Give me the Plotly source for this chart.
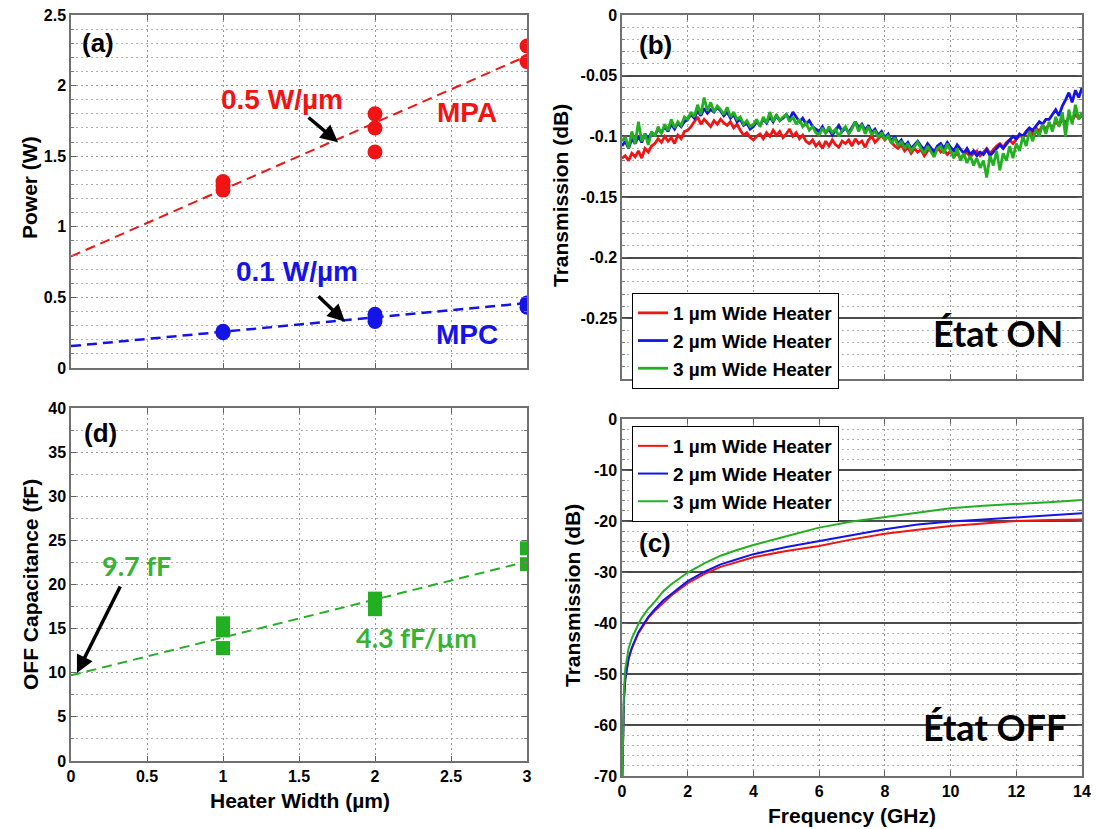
import numpy as np
import plotly.graph_objects as go

# ---------------- data ----------------
# (a) maximum power vs heater width
mpa_width = [1, 1, 1, 2, 2, 2, 3, 3]
mpa_power = [1.32, 1.29, 1.26, 1.80, 1.70, 1.53, 2.28, 2.17]
mpa_fit_x = [0, 3]
mpa_fit_y = [0.79, 2.21]
mpc_width = [1, 1, 2, 2, 2, 3, 3]
mpc_power = [0.26, 0.25, 0.38, 0.35, 0.33, 0.46, 0.43]
mpc_fit_x = [0, 3]
mpc_fit_y = [0.155, 0.46]

# (d) OFF capacitance vs heater width
cap_width = [1, 1, 1, 2, 2, 3, 3]
cap_ff = [15.6, 14.8, 12.8, 18.4, 17.2, 24.1, 22.3]
cap_fit_x = [0, 3]
cap_fit_y = [9.7, 22.6]

# (b) ON-state transmission (values in mdB), 0..14 GHz every 0.1 GHz
freq_on = np.round(np.arange(0, 14.05, 0.1), 1)
on_1um_mdb = [
    -118, -116, -120, -114, -117, -112, -118, -110, -113, -108,
    -106, -102, -105, -100, -104, -101, -106, -99, -102, -96,
    -95, -92, -88, -84, -90, -86, -89, -92, -87, -90,
    -86, -89, -91, -88, -93, -90, -95, -99, -97, -101,
    -103, -100, -98, -102, -97, -100, -95, -99, -96, -101,
    -98, -94, -100, -97, -102, -99, -104, -106, -103, -108,
    -105, -110, -104, -108, -103, -107, -109, -104, -106, -103,
    -108, -102, -106, -104, -109, -103, -100, -105, -102, -99,
    -103, -100, -105, -108, -110, -107, -112, -109, -114, -110,
    -113, -111, -116, -112, -110, -114, -109, -113, -111, -115,
    -112, -117, -114, -118, -115, -113, -117, -114, -112, -116,
    -113, -110, -114, -111, -108, -106, -109, -105, -103, -106,
    -102, -99, -101, -97, -95, -98, -93, -96, -91, -94,
    -90, -93, -88, -91, -86, -89, -84, -87, -82, -85,
    -83]
on_2um_mdb = [
    -108, -104, -110, -102, -106, -100, -105, -98, -102, -97,
    -99, -94, -97, -92, -96, -90, -94, -89, -92, -88,
    -86, -82, -85, -79, -83, -77, -81, -78, -80, -76,
    -79, -83, -80, -85, -82, -88, -86, -91, -89, -94,
    -92, -88, -91, -86, -89, -84, -88, -83, -87, -85,
    -82, -86, -80, -84, -88, -85, -90, -87, -92, -94,
    -96, -92, -97, -94, -99, -95, -91, -96, -93, -97,
    -92, -88, -93, -90, -95, -91, -97, -94, -99, -96,
    -101, -98, -104, -100, -106, -103, -108, -105, -110, -107,
    -104, -108, -111, -106, -110, -113, -108, -106, -110, -105,
    -109, -112, -107, -111, -114, -110, -115, -112, -116, -113,
    -115, -111, -116, -113, -110, -107, -110, -106, -103, -100,
    -102, -98, -100, -96, -93, -95, -91, -88, -90, -86,
    -86, -82, -78, -83, -75, -70, -64, -72, -62, -68,
    -60]
on_3um_mdb = [
    -104, -100, -110, -96, -106, -88, -104, -98, -107, -96,
    -100, -92, -98, -90, -95, -86, -93, -88, -91, -84,
    -86, -80, -84, -74, -82, -68, -79, -72, -80, -75,
    -78, -82, -76, -84, -80, -86, -84, -90, -87, -92,
    -90, -86, -92, -84, -89, -80, -88, -82, -87, -84,
    -82, -88, -84, -90, -86, -92, -89, -95, -92, -97,
    -99, -93, -98, -92, -97, -94, -100, -95, -92, -98,
    -94, -88, -96, -90, -98, -92, -99, -95, -101, -97,
    -103, -99, -106, -101, -108, -104, -110, -106, -112, -108,
    -105, -110, -114, -108, -112, -117, -110, -108, -114, -106,
    -112, -118, -110, -120, -114, -122, -116, -124, -118, -126,
    -120, -134, -116, -124, -112, -128, -114, -120, -108, -118,
    -106, -112, -100, -108, -96, -104, -94, -100, -90, -98,
    -88, -96, -84, -92, -80, -100, -78, -90, -74, -86,
    -80]

# (c) OFF-state transmission (dB)
freq_off = [0.01, 0.03, 0.06, 0.1, 0.15, 0.2, 0.3, 0.4, 0.5, 0.6, 0.8, 1.0,
            1.25, 1.5, 2, 2.5, 3, 3.5, 4, 5, 6, 7, 8, 9, 10, 11, 12, 13, 14]
off_1um = [-70, -60, -55, -51, -48.5, -47, -45, -43.5, -42, -41, -39, -37.6,
           -36, -34.6, -32.2, -30.4, -29, -28, -27.1, -25.9, -24.9, -23.6,
           -22.5, -21.7, -21, -20.5, -20, -19.8, -19.7]
off_2um = [-70, -60, -55, -51, -48.5, -47, -44.8, -43.2, -41.8, -40.8, -38.8,
           -37.3, -35.6, -34.3, -31.8, -30, -28.5, -27.5, -26.5, -25.1, -23.9,
           -22.7, -21.6, -20.7, -20.1, -19.7, -19.3, -18.9, -18.5]
off_3um = [-70, -58, -53, -49, -46.5, -45, -43, -41.5, -40.2, -39, -37.2,
           -35.8, -33.8, -32.4, -30.1, -28.3, -26.8, -25.7, -24.7, -23, -21.3,
           -20.1, -19.2, -18.4, -17.5, -17, -16.7, -16.3, -15.9]

legend_names = ["1 \u00b5m Wide Heater", "2 \u00b5m Wide Heater", "3 \u00b5m Wide Heater"]

RED = "#f01414"
BLUE = "#1414e6"
GREEN = "#22b022"

W, H = 1097, 829
FONT = "Liberation Sans"

def px(x):
    return x / W

def py(y):
    return 1 - y / H

fig = go.Figure()

DASH = "10px,6px"
# (a)
fig.add_trace(go.Scatter(x=mpa_fit_x, y=mpa_fit_y, mode="lines", xaxis="x", yaxis="y",
                         line=dict(color=RED, width=2, dash=DASH), showlegend=False))
fig.add_trace(go.Scatter(x=mpc_fit_x, y=mpc_fit_y, mode="lines", xaxis="x", yaxis="y",
                         line=dict(color=BLUE, width=2.5, dash=DASH), showlegend=False))
fig.add_trace(go.Scatter(x=mpa_width, y=mpa_power, mode="markers", xaxis="x", yaxis="y",
                         marker=dict(color=RED, size=15, symbol="circle"), showlegend=False))
fig.add_trace(go.Scatter(x=mpc_width, y=mpc_power, mode="markers", xaxis="x", yaxis="y",
                         marker=dict(color=BLUE, size=15, symbol="circle"), showlegend=False))

# (b)
for vals, col, name in zip([on_1um_mdb, on_2um_mdb, on_3um_mdb], [RED, BLUE, GREEN], legend_names):
    fig.add_trace(go.Scatter(x=freq_on, y=np.array(vals) / 1000.0, mode="lines",
                             xaxis="x2", yaxis="y2", name=name, legend="legend",
                             line=dict(color=col, width=2.8)))

# (d)
fig.add_trace(go.Scatter(x=cap_fit_x, y=cap_fit_y, mode="lines", xaxis="x3", yaxis="y3",
                         line=dict(color=GREEN, width=2, dash=DASH), showlegend=False))
fig.add_trace(go.Scatter(x=cap_width, y=cap_ff, mode="markers", xaxis="x3", yaxis="y3",
                         marker=dict(color=GREEN, size=14, symbol="square"), showlegend=False))

# (c)
for vals, col, name in zip([off_1um, off_2um, off_3um], [RED, BLUE, GREEN], legend_names):
    fig.add_trace(go.Scatter(x=freq_off, y=vals, mode="lines",
                             xaxis="x4", yaxis="y4", name=name, legend="legend2",
                             line=dict(color=col, width=2)))

tickfont = dict(family=FONT, size=16, color="black", weight="bold")
DOT = "2px,3px"

def axis(**kw):
    d = dict(showline=True, linecolor="#707070", linewidth=1.5, mirror="allticks",
             ticks="inside", ticklen=5, tickcolor="#606060", tickwidth=1,
             showgrid=True, gridcolor="#9a9a9a", griddash=DOT, gridwidth=1,
             zeroline=False, tickfont=tickfont, fixedrange=True, automargin=False)
    d.update(kw)
    return d

def minor(dt):
    return dict(tickmode="linear", tick0=0, dtick=dt, ticks="inside", ticklen=3,
                tickcolor="#808080", showgrid=True, gridcolor="#b0b0b0",
                griddash=DOT, gridwidth=1)

LX = [px(71), px(527)]
RX = [px(622), px(1082)]

def fmt(v):
    return "%g" % v

a_y = [0, 0.5, 1, 1.5, 2, 2.5]
b_y = [0, -0.05, -0.1, -0.15, -0.2, -0.25, -0.3]
c_y = [0, -10, -20, -30, -40, -50, -60, -70]
d_y = [0, 5, 10, 15, 20, 25, 30, 35, 40]
d_x = [0, 0.5, 1, 1.5, 2, 2.5, 3]
c_x = [0, 2, 4, 6, 8, 10, 12, 14]

fig.update_layout(
    width=W, height=H, autosize=False,
    margin=dict(l=0, r=0, t=0, b=0, autoexpand=False),
    paper_bgcolor="white", plot_bgcolor="white",
    xaxis=axis(domain=LX, range=[0, 3], anchor="y", tickmode="linear", tick0=0, dtick=0.5,
               showticklabels=False),
    yaxis=axis(domain=[py(368), py(15)], range=[0, 2.5], anchor="x",
               tickmode="array", tickvals=a_y, ticktext=[fmt(v) for v in a_y], minor=minor(0.1)),
    xaxis2=axis(domain=RX, range=[0, 14], anchor="y2", tickmode="linear", tick0=0, dtick=2,
                showticklabels=False),
    yaxis2=axis(domain=[py(379), py(15)], range=[-0.3, 0], anchor="x2",
                tickmode="array", tickvals=b_y,
                ticktext=["0", "-0.05", "-0.1", "-0.15", "-0.2", "-0.25", ""],
                griddash="solid", gridcolor="#4a4a4a", gridwidth=1.5, minor=minor(0.01)),
    xaxis3=axis(domain=LX, range=[0, 3], anchor="y3", tickmode="array", tickvals=d_x,
                ticktext=[fmt(v) for v in d_x]),
    yaxis3=axis(domain=[py(761), py(408)], range=[0, 40], anchor="x3",
                tickmode="array", tickvals=d_y, ticktext=[fmt(v) for v in d_y], minor=minor(2.5)),
    xaxis4=axis(domain=RX, range=[0, 14], anchor="y4", tickmode="array", tickvals=c_x,
                ticktext=[fmt(v) for v in c_x]),
    yaxis4=axis(domain=[py(776), py(419)], range=[-70, 0], anchor="x4",
                tickmode="array", tickvals=c_y,
                ticktext=["0"] + ["-%d" % (-v) for v in c_y[1:]],
                griddash="solid", gridcolor="#4a4a4a", gridwidth=1.5, minor=minor(2)),
    legend=dict(x=px(632), y=py(293), xanchor="left", yanchor="top", bgcolor="white",
                bordercolor="black", borderwidth=1, tracegroupgap=0,
                font=dict(family=FONT, size=19, color="black", weight="bold")),
    legend2=dict(x=px(632), y=py(426), xanchor="left", yanchor="top", bgcolor="white",
                 bordercolor="black", borderwidth=1, tracegroupgap=0,
                 font=dict(family=FONT, size=19, color="black", weight="bold")),
)

ann = []
titlefont = dict(family=FONT, size=21, color="black", weight="bold")

def ptext(x, y, text, font, angle=0):
    ann.append(dict(x=px(x), y=py(y), xref="paper", yref="paper", text=text, showarrow=False,
                    font=font, textangle=angle, xanchor="center", yanchor="middle"))

# axis titles
ptext(30, 188, "Power (W)", titlefont, -90)
ptext(561, 196, "Transmission (dB)", titlefont, -90)
ptext(572, 596, "Transmission (dB)", titlefont, -90)
ptext(30, 585, "OFF Capacitance (fF)", titlefont, -90)
ptext(300, 800, "Heater Width (\u00b5m)", titlefont)
ptext(852, 815, "Frequency (GHz)", titlefont)

# panel labels
lblfont = dict(family=FONT, size=26, color="black", weight="bold")
ptext(98, 43, "(a)", lblfont)
ptext(655, 45, "(b)", lblfont)
ptext(655, 543, "(c)", lblfont)
ptext(100, 433, "(d)", lblfont)

etat = dict(family="Lato", size=36, color="black", weight="bold")
ptext(998, 333, "\u00c9tat ON", etat)
ptext(994, 727, "\u00c9tat OFF", etat)

# in-plot texts (data coordinates)
def dtext(xr, yr, x, y, text, font):
    ann.append(dict(x=x, y=y, xref=xr, yref=yr, text=text, showarrow=False, font=font,
                    xanchor="center", yanchor="middle"))

def arrow(xr, yr, x0, y0, x1, y1):
    ann.append(dict(x=x1, y=y1, ax=x0, ay=y0, xref=xr, yref=yr, axref=xr, ayref=yr,
                    text="", showarrow=True, arrowhead=2, arrowsize=1, arrowwidth=3.5,
                    arrowcolor="black"))

bigred = dict(family=FONT, size=28, color=RED, weight="bold")
bigblue = dict(family=FONT, size=28, color=BLUE, weight="bold")
dtext("x", "y", 1.388, 1.903, "0.5 W/\u00b5m", bigred)
dtext("x", "y", 2.605, 1.811, "MPA", bigred)
dtext("x", "y", 1.487, 0.682, "0.1 W/\u00b5m", bigblue)
dtext("x", "y", 2.605, 0.234, "MPC", bigblue)
arrow("x", "y", 1.553, 1.783, 1.757, 1.598)
arrow("x", "y", 1.618, 0.518, 1.803, 0.327)

greenfont = dict(family="Lato", size=27, color="#33b433", weight="bold")
dtext("x3", "y3", 0.428, 22.2, "9.7 fF", greenfont)
dtext("x3", "y3", 2.27, 13.94, "4.3 fF/\u00b5m", greenfont)
arrow("x3", "y3", 0.329, 19.94, 0.039, 9.97)

fig.update_layout(annotations=ann)

fig.write_html("out.html", config={"displayModeBar": False},
               post_script="document.body.style.margin='0';document.body.style.overflow='hidden';")
